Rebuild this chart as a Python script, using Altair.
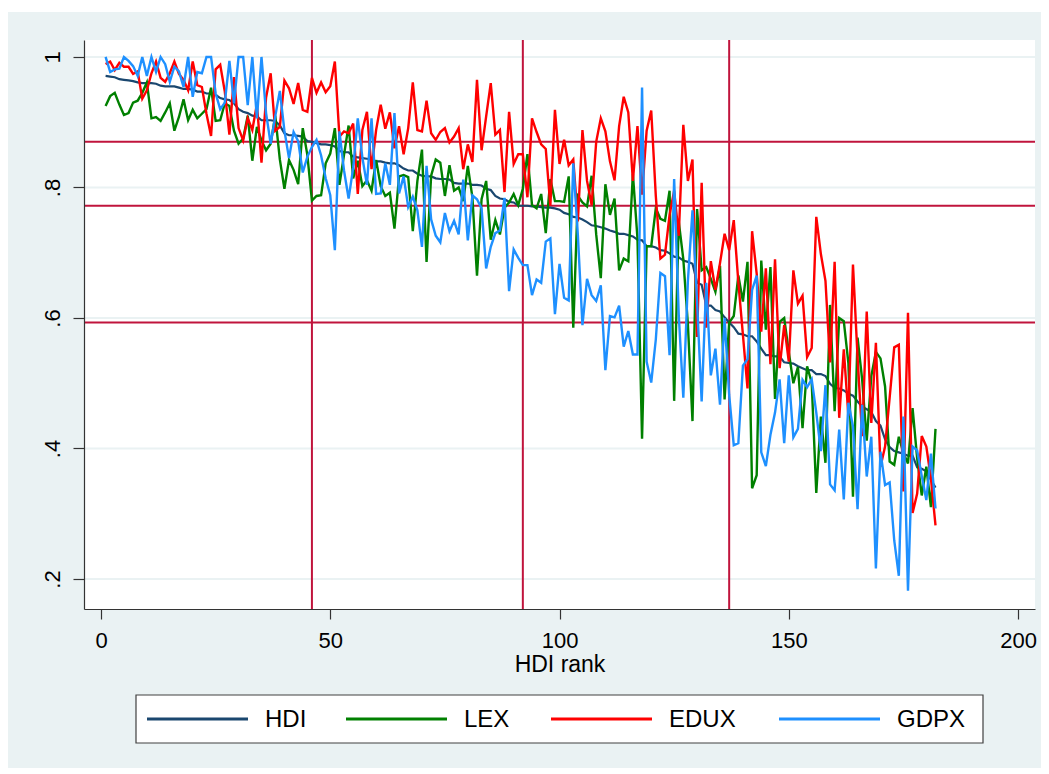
import altair as alt
import pandas as pd

series_names = ["HDI", "LEX", "EDUX", "GDPX"]
series_colors = ["#1a476f", "#008000", "#ff0000", "#1e90ff"]

hdi = [0.971,0.970,0.969,0.966,0.965,0.964,0.963,0.961,0.960,0.960,
       0.960,0.959,0.956,0.955,0.955,0.955,0.953,0.951,0.951,0.950,
       0.947,0.947,0.944,0.944,0.942,0.937,0.935,0.934,0.929,0.920,
       0.916,0.914,0.910,0.909,0.903,0.903,0.903,0.902,0.895,0.883,
       0.880,0.880,0.879,0.878,0.871,0.870,0.868,0.866,0.866,0.865,
       0.863,0.856,0.854,0.854,0.847,0.846,0.845,0.844,0.843,0.840,
       0.840,0.838,0.837,0.837,0.834,0.829,0.826,0.826,0.821,0.818,
       0.817,0.817,0.814,0.813,0.813,0.812,0.807,0.806,0.806,0.806,
       0.804,0.804,0.803,0.798,0.796,0.787,0.783,0.782,0.778,0.777,
       0.772,0.772,0.772,0.771,0.771,0.770,0.769,0.769,0.768,0.766,
       0.761,0.759,0.755,0.754,0.751,0.747,0.742,0.741,0.739,0.737,
       0.734,0.732,0.729,0.729,0.727,0.725,0.720,0.719,0.710,0.710,
       0.708,0.704,0.703,0.699,0.694,0.693,0.688,0.686,0.683,0.654,
       0.651,0.619,0.619,0.612,0.610,0.601,0.593,0.586,0.576,0.575,
       0.572,0.572,0.564,0.553,0.543,0.543,0.541,0.541,0.532,0.531,
       0.530,0.526,0.523,0.520,0.520,0.514,0.514,0.511,0.499,0.493,
       0.492,0.489,0.484,0.481,0.472,0.464,0.460,0.456,0.442,0.435,
       0.414,0.402,0.396,0.394,0.392,0.389,0.389,0.371,0.369,0.365,0.352,0.340]

lex = [0.925,0.940,0.945,0.927,0.911,0.914,0.930,0.933,0.945,0.961,
       0.906,0.908,0.902,0.915,0.929,0.887,0.908,0.935,0.903,0.919,
       0.906,0.913,0.920,0.953,0.902,0.903,0.929,0.925,0.887,0.867,
       0.875,0.910,0.841,0.893,0.872,0.857,0.867,0.910,0.843,0.798,
       0.842,0.827,0.805,0.891,0.850,0.780,0.787,0.788,0.837,0.852,
       0.891,0.804,0.850,0.895,0.814,0.841,0.802,0.811,0.795,0.842,
       0.802,0.787,0.792,0.737,0.817,0.819,0.816,0.733,0.810,0.858,
       0.686,0.818,0.843,0.838,0.787,0.834,0.795,0.800,0.779,0.833,
       0.785,0.665,0.782,0.810,0.720,0.750,0.728,0.769,0.777,0.790,
       0.773,0.798,0.851,0.773,0.768,0.790,0.730,0.813,0.779,0.779,
       0.778,0.817,0.585,0.787,0.777,0.771,0.818,0.728,0.661,0.805,
       0.758,0.783,0.673,0.691,0.687,0.821,0.722,0.415,0.710,0.710,
       0.768,0.752,0.749,0.795,0.473,0.748,0.690,0.590,0.442,0.767,
       0.673,0.678,0.660,0.640,0.680,0.475,0.593,0.603,0.665,0.625,
       0.686,0.339,0.359,0.688,0.582,0.678,0.476,0.594,0.600,0.548,
       0.500,0.525,0.431,0.526,0.501,0.332,0.449,0.378,0.620,0.457,
       0.600,0.595,0.531,0.326,0.570,0.506,0.412,0.511,0.548,0.538,
       0.495,0.380,0.375,0.418,0.393,0.377,0.462,0.385,0.328,0.372,0.310,0.430]

edux = [0.989,0.993,0.980,0.991,0.985,0.985,0.974,0.978,0.936,0.949,
        0.975,0.993,0.968,0.962,0.975,0.993,0.974,0.965,0.949,0.993,
        0.957,0.954,0.913,0.879,0.981,0.988,0.947,0.881,0.969,0.891,
        0.872,0.906,0.888,0.928,0.838,0.938,0.975,0.887,0.893,0.964,
        0.952,0.928,0.960,0.919,0.916,0.968,0.945,0.961,0.946,0.955,
        0.993,0.878,0.886,0.883,0.898,0.790,0.888,0.916,0.828,0.888,
        0.927,0.890,0.915,0.860,0.894,0.851,0.891,0.961,0.888,0.886,
        0.933,0.883,0.873,0.885,0.891,0.869,0.878,0.891,0.828,0.866,
        0.839,0.965,0.857,0.909,0.960,0.881,0.888,0.793,0.916,0.836,
        0.851,0.851,0.785,0.906,0.885,0.866,0.859,0.772,0.919,0.836,
        0.873,0.834,0.843,0.748,0.888,0.810,0.773,0.870,0.906,0.886,
        0.840,0.811,0.894,0.939,0.915,0.810,0.894,0.789,0.887,0.918,
        0.787,0.691,0.697,0.758,0.795,0.726,0.896,0.810,0.843,0.571,
        0.807,0.585,0.687,0.643,0.684,0.729,0.704,0.750,0.655,0.574,
        0.492,0.733,0.668,0.579,0.676,0.529,0.690,0.523,0.589,0.533,
        0.673,0.622,0.634,0.540,0.554,0.755,0.698,0.657,0.532,0.686,
        0.447,0.552,0.450,0.682,0.540,0.419,0.610,0.439,0.562,0.372,
        0.403,0.478,0.555,0.559,0.334,0.608,0.301,0.331,0.419,0.403,0.354,0.282]

gdpx = [1.000,0.977,0.981,0.982,1.000,0.994,0.986,0.971,1.000,0.971,
        1.000,0.977,1.000,0.989,0.962,0.985,0.978,0.954,1.000,0.939,
        0.977,0.975,1.000,1.000,0.944,0.920,0.930,0.994,0.929,1.000,
        1.000,0.926,1.000,0.906,1.000,0.914,0.867,0.909,0.948,0.887,
        0.845,0.885,0.871,0.823,0.847,0.862,0.873,0.849,0.814,0.788,
        0.704,0.886,0.826,0.783,0.830,0.906,0.846,0.804,0.906,0.790,
        0.791,0.837,0.804,0.914,0.791,0.817,0.770,0.786,0.765,0.709,
        0.833,0.751,0.726,0.716,0.761,0.733,0.749,0.728,0.812,0.719,
        0.788,0.782,0.768,0.676,0.709,0.730,0.734,0.784,0.641,0.705,
        0.692,0.681,0.681,0.635,0.659,0.654,0.717,0.722,0.606,0.683,
        0.631,0.627,0.837,0.727,0.589,0.660,0.635,0.626,0.650,0.520,
        0.603,0.601,0.619,0.556,0.580,0.544,0.544,0.953,0.533,0.501,
        0.567,0.669,0.664,0.543,0.813,0.605,0.478,0.657,0.765,0.624,
        0.472,0.654,0.512,0.553,0.467,0.600,0.482,0.405,0.408,0.527,
        0.537,0.643,0.665,0.394,0.373,0.421,0.455,0.506,0.408,0.512,
        0.417,0.430,0.505,0.494,0.506,0.455,0.396,0.497,0.345,0.336,
        0.429,0.322,0.470,0.434,0.307,0.467,0.357,0.418,0.216,0.395,
        0.344,0.348,0.259,0.205,0.449,0.182,0.403,0.397,0.358,0.321,0.392,0.308]

quartile_ranks = [46, 92, 137]
quartile_hdi = [0.870, 0.772, 0.593]

x_ticks = [0, 50, 100, 150, 200]
y_ticks = [0.2, 0.4, 0.6, 0.8, 1.0]

ranks = list(range(1, len(hdi) + 1))
frames = []
for name, vals in zip(series_names, [hdi, lex, edux, gdpx]):
    frames.append(pd.DataFrame({"rank": ranks, "value": vals, "series": name}))
df = pd.concat(frames, ignore_index=True)

FONT = "Liberation Sans"
BG = "#eaf2f3"
W, H = 951, 569

xscale = alt.Scale(domain=[-3.71, 203.7], nice=False, zero=False)
yscale = alt.Scale(domain=[0.154, 1.026], nice=False, zero=False)

color = alt.Color(
    "series:N",
    scale=alt.Scale(domain=series_names, range=series_colors),
    legend=None,
)

xaxis = alt.Axis(values=x_ticks, format="d", title="HDI rank", grid=False,
                 tickSize=10, labelPadding=11, titlePadding=2, zindex=1)
yaxis = alt.Axis(values=y_ticks, title=None, grid=False, zindex=1,
                 tickSize=11, labelAngle=270, labelAlign="center",
                 labelBaseline="bottom", labelPadding=9,
                 labelExpr="datum.value == 1 ? '1' : replace(format(datum.value, '.1f'), '0.', '.')")

one = pd.DataFrame({"k": [0]})

# light-blue graph region around the white plot region (pixel layout)
bands = [(-76, W + 6, -28, 0), (-76, W + 6, H, H + 159), (-76, 0, 0, H), (W, W + 6, 0, H)]
band_layers = [
    alt.Chart(one).mark_rect(fill=BG, strokeWidth=0).encode(
        x=alt.value(b[0]), x2=alt.value(b[1]), y=alt.value(b[2]), y2=alt.value(b[3])
    )
    for b in bands
]

base_axes = alt.Chart(pd.DataFrame({"rank": [0], "value": [0.5]})).mark_point(opacity=0).encode(
    x=alt.X("rank:Q", scale=xscale, axis=xaxis),
    y=alt.Y("value:Q", scale=yscale, axis=yaxis),
)

grid = alt.Chart(pd.DataFrame({"value": y_ticks})).mark_rule(
    color=BG, strokeWidth=2
).encode(y=alt.Y("value:Q", scale=yscale))

vrules = alt.Chart(pd.DataFrame({"rank": quartile_ranks})).mark_rule(
    color="#c0143c", strokeWidth=2
).encode(x=alt.X("rank:Q", scale=xscale))

hrules = alt.Chart(pd.DataFrame({"value": quartile_hdi})).mark_rule(
    color="#c0143c", strokeWidth=2
).encode(y=alt.Y("value:Q", scale=yscale))

line_layers = []
for name in series_names:
    line_layers.append(
        alt.Chart(df).transform_filter(alt.datum.series == name).mark_line(
            strokeWidth=2.4 if name != "HDI" else 2.2
        ).encode(
            x=alt.X("rank:Q", scale=xscale),
            y=alt.Y("value:Q", scale=yscale),
            color=color,
        )
    )

# Legend drawn by hand (layout in pixels relative to the plot area's top-left)
leg_box = (52, 899, 655, 703)
leg_line_start = [63, 262, 467, 695]
leg_line_len = 101
leg_text_gap = 17
leg_y = 679

legend_layers = [
    alt.Chart(one).mark_rect(fill="white", stroke="#404040", strokeWidth=1.2).encode(
        x=alt.value(leg_box[0]), x2=alt.value(leg_box[1]),
        y=alt.value(leg_box[2]), y2=alt.value(leg_box[3]),
    )
]
for name, col, x0 in zip(series_names, series_colors, leg_line_start):
    legend_layers.append(
        alt.Chart(one).mark_rule(color=col, strokeWidth=3).encode(
            x=alt.value(x0), x2=alt.value(x0 + leg_line_len), y=alt.value(leg_y)
        )
    )
    legend_layers.append(
        alt.Chart(one).mark_text(
            text=name, align="left", baseline="middle", font=FONT,
            fontSize=24, color="black",
        ).encode(x=alt.value(x0 + leg_line_len + leg_text_gap), y=alt.value(leg_y + 1))
    )

chart = alt.layer(*band_layers, grid, base_axes, vrules, hrules, *line_layers, *legend_layers).properties(
    width=W, height=H,
    autosize=alt.AutoSizeParams(type="none"),
    padding={"left": 84, "top": 40, "right": 14, "bottom": 165},
).configure(
    background="white",
).configure_view(
    fill="white", strokeWidth=0,
).configure_axis(
    labelFont=FONT, titleFont=FONT, labelFontSize=22, titleFontSize=23,
    titleFontWeight="normal", labelColor="black", titleColor="black",
    domainColor="#333333", tickColor="#333333", domainWidth=1.2, tickWidth=1.2,
)

chart.save("out.html", embed_options={"renderer": "svg", "actions": False})
